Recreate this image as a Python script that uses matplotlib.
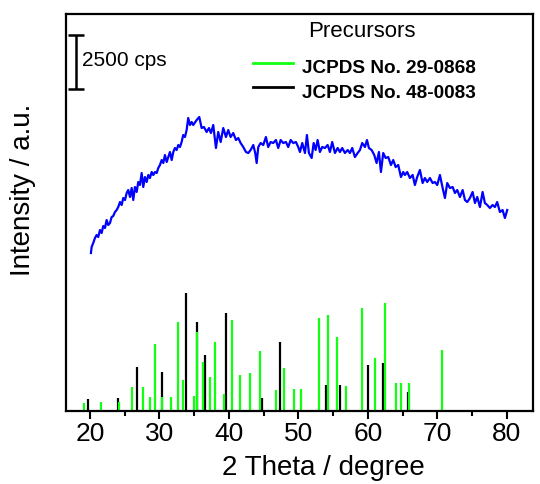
import matplotlib
matplotlib.use("Agg")
import matplotlib.pyplot as plt
from matplotlib.ticker import MultipleLocator

plt.rcParams["font.family"] = ["Liberation Sans", "DejaVu Sans"]

# precursor pattern (2 theta, cps)
tt_meas = [
    20.14, 20.24, 20.47, 20.72, 20.96, 21.19, 21.44, 21.68, 21.91, 22.16, 22.40, 22.63,
    22.88, 23.12, 23.35, 23.60, 23.84, 24.07, 24.32, 24.56, 24.79, 25.04, 25.28, 25.51,
    25.76, 26.00, 26.23, 26.47, 26.72, 26.95, 27.19, 27.44, 27.67, 27.91, 28.16, 28.39,
    28.63, 28.88, 29.11, 29.35, 29.60, 29.83, 30.07, 30.32, 30.55, 30.79, 31.04, 31.27,
    31.51, 31.76, 31.99, 32.23, 32.47, 32.71, 32.95, 33.19, 33.42, 33.67, 33.91, 34.14,
    34.39, 34.63, 34.86, 35.35, 35.73, 36.07, 36.40, 36.79, 37.12, 37.41, 37.74, 38.13,
    38.46, 38.81, 39.18, 39.57, 39.90, 40.24, 40.62, 41.01, 41.34, 41.68, 42.06, 42.45,
    42.78, 43.12, 43.50, 43.78, 43.99, 44.22, 44.56, 44.94, 45.32, 45.65, 46.00, 46.37,
    46.76, 47.09, 47.44, 47.81, 48.20, 48.53, 48.88, 49.25, 49.64, 49.97, 50.22, 50.55,
    50.94, 51.22, 51.51, 51.90, 52.19, 52.47, 52.76, 53.09, 53.42, 53.81, 54.20, 54.53,
    54.86, 55.25, 55.64, 55.97, 56.30, 56.69, 57.08, 57.41, 57.74, 58.13, 58.52, 58.85,
    59.18, 59.57, 59.86, 60.14, 60.53, 60.91, 61.25, 61.58, 61.87, 62.20, 62.55, 62.92,
    63.31, 63.64, 63.99, 64.36, 64.75, 65.08, 65.32, 65.65, 66.04, 66.43, 66.76, 67.09,
    67.48, 67.87, 68.20, 68.53, 68.92, 69.31, 69.64, 69.97, 70.36, 70.75, 71.08, 71.41,
    71.80, 72.19, 72.52, 72.85, 73.24, 73.63, 73.96, 74.29, 74.68, 75.06, 75.40, 75.73,
    76.12, 76.50, 76.83, 77.17, 77.55, 77.94, 78.27, 78.60, 78.99, 79.38, 79.71, 80.04,
]
cps_meas = [
    7315, 7593, 7778, 8010, 8149, 8056, 8380, 8241, 8566, 8473, 8843, 8612,
    8704, 8982, 9029, 9214, 9306, 9445, 9677, 9538, 9862, 9769, 10093, 10232,
    9908, 10325, 9769, 10371, 10140, 10603, 10464, 11019, 10371, 10834, 10603, 10927,
    10788, 11066, 10927, 11066, 11019, 11251, 11390, 11621, 11482, 11853, 11529, 11760,
    11992, 11621, 11992, 12177, 12084, 12316, 12223, 12455, 12779, 12686, 13010, 13566,
    13242, 13381, 13242, 13473, 13612, 13103, 13149, 12918, 13103, 12871, 13242, 12177,
    12918, 12455, 13103, 12686, 13010, 12686, 12871, 12547, 12640, 12408, 12223, 11992,
    11945, 12084, 12316, 11945, 11482, 12223, 12408, 12316, 12686, 12223, 12455, 12408,
    12547, 12177, 12547, 12408, 12455, 12223, 12547, 12408, 12455, 12223, 11992, 12408,
    11945, 12779, 11945, 11714, 12408, 12084, 12547, 11992, 12223, 12177, 12316, 11992,
    12455, 11945, 12177, 11992, 12177, 11945, 12084, 11945, 12177, 11760, 11945, 12084,
    12408, 12223, 12547, 12177, 12084, 11853, 11482, 11992, 11066, 11945, 11714, 11760,
    11390, 11621, 11297, 11390, 10834, 11066, 10927, 11066, 10788, 10927, 10464, 10834,
    11158, 10556, 10788, 10603, 10788, 10556, 10603, 10464, 10927, 10325, 9862, 10556,
    10325, 10371, 10093, 10232, 9908, 10232, 9769, 9677, 9862, 10140, 9630, 9908,
    9445, 10140, 9630, 9538, 9399, 9538, 9445, 9677, 9214, 9306, 8936, 9306,
]

# JCPDS No. 29-0868
tt_29 = [19.14, 21.6, 24.2, 26.0, 27.6, 28.6, 29.4, 30.4, 31.6, 32.6, 33.4, 35.0,
         35.35, 36.2, 37.3, 38.0, 39.3, 40.4, 41.6, 43.1, 44.5, 46.7, 47.9, 49.3,
         50.3, 52.9, 54.2, 55.6, 56.8, 59.1, 60.95, 62.5, 64.0, 64.8, 65.9, 70.6]
int_29 = [370, 420, 420, 1110, 1110, 650, 3100, 650, 650, 4120, 1440, 690,
          3660, 2270, 1570, 3190, 790, 4210, 1670, 1760, 2780, 970, 1990, 1020,
          1020, 4310, 4440, 3430, 1160, 4770, 2450, 5000, 1300, 1300, 1300, 2820]

# JCPDS No. 48-0083
tt_48 = [19.7, 24.0, 26.7, 30.4, 33.8, 35.35, 36.5, 39.6, 44.7, 47.4, 54.0, 55.97,
         59.95, 62.2, 65.7]
int_48 = [560, 600, 2040, 1810, 5460, 4120, 2590, 4540, 600, 3190, 1200, 1200,
          2130, 2220, 880]

ref_labels = ["JCPDS No. 29-0868", "JCPDS No. 48-0083"]
ref_colors = ["#11ff11", "black"]
scale_cps = 2500

fig = plt.figure(figsize=(5.4, 4.84), dpi=100)
ax = fig.add_axes([0.1222, 0.1508, 0.8648, 0.8202])

ax.plot(tt_meas, cps_meas, color="#0000ff", lw=1.6)
ax.vlines(tt_48, 0, int_48, color=ref_colors[1], lw=1.6)
ax.vlines(tt_29, 0, int_29, color=ref_colors[0], lw=1.6)

ax.set_xlim(16.55, 83.75)
ax.set_ylim(0, 18380)

# scale bar
ax.errorbar([17.94], [17400 - scale_cps / 2], yerr=scale_cps / 2, color="black",
            lw=1.8, capsize=6, capthick=1.8)
ax.text(18.8, 15970, f"{scale_cps} cps", fontsize=15, ha="left", va="baseline")

# legend drawn by hand
ax.text(0.634, 0.942, "Precursors", transform=ax.transAxes, fontsize=16,
        ha="center", va="baseline")
for i, (lab, col) in enumerate(zip(ref_labels, ref_colors)):
    y = 0.877 - i * 0.062
    ax.plot([0.400, 0.486], [y, y], color=col, lw=2, transform=ax.transAxes,
            clip_on=False)
    ax.text(0.505, y - 0.026, lab, transform=ax.transAxes, fontsize=13.7,
            fontweight="bold", ha="left", va="baseline")

ax.xaxis.set_major_locator(MultipleLocator(10))
ax.xaxis.set_minor_locator(MultipleLocator(5))
ax.tick_params(axis="x", which="major", direction="out", length=6, width=1.5,
               labelsize=19, pad=2)
ax.tick_params(axis="x", which="minor", direction="out", length=3.5, width=1.5)
ax.set_yticks([])
for s in ax.spines.values():
    s.set_linewidth(1.6)

ax.set_xlabel("2 Theta / degree", fontsize=20)
ax.set_ylabel("Intensity / a.u.", fontsize=20)
ax.xaxis.set_label_coords(0.552, -0.143)
ax.yaxis.set_label_coords(-0.092, 0.557)
ax.xaxis.label.set_va("center")
ax.yaxis.label.set_va("center")

fig.savefig("out.png", dpi=100)
